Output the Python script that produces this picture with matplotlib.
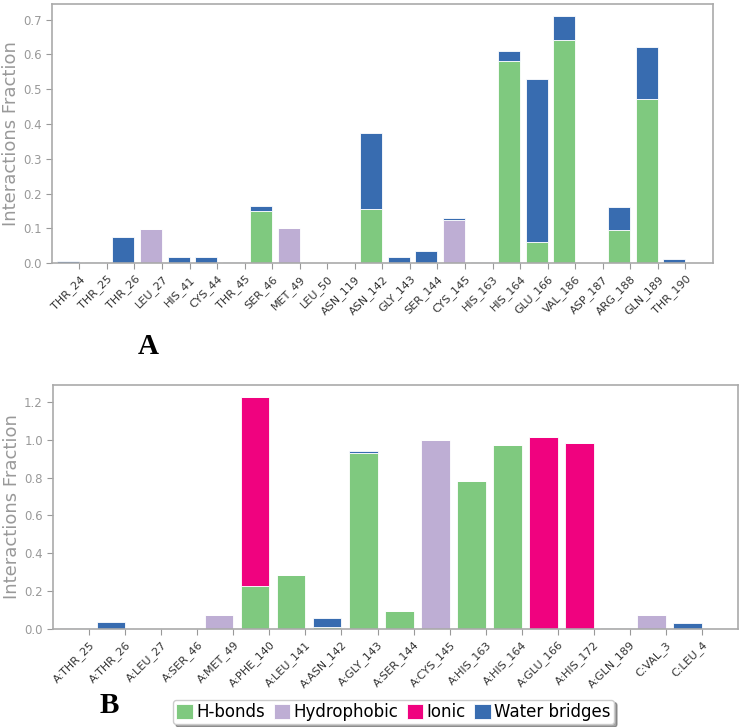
import matplotlib
matplotlib.use('Agg')
import matplotlib.pyplot as plt
import numpy as np

# panel A
res_a = ['THR_24', 'THR_25', 'THR_26', 'LEU_27', 'HIS_41', 'CYS_44', 'THR_45',
         'SER_46', 'MET_49', 'LEU_50', 'ASN_119', 'ASN_142', 'GLY_143', 'SER_144',
         'CYS_145', 'HIS_163', 'HIS_164', 'GLU_166', 'VAL_186', 'ASP_187',
         'ARG_188', 'GLN_189', 'THR_190']
hb_a    = [0, 0, 0, 0, 0, 0, 0, 0.150, 0, 0, 0, 0.155, 0, 0, 0, 0, 0.582, 0.060, 0.641, 0, 0.096, 0.472, 0]
hyd_a   = [0, 0, 0, 0.098, 0, 0, 0, 0, 0.100, 0, 0, 0, 0, 0, 0.125, 0, 0, 0, 0, 0, 0, 0, 0]
ion_a   = [0] * 23
wat_a   = [0.006, 0.003, 0.075, 0, 0.018, 0.018, 0.003, 0.015, 0, 0, 0, 0.219, 0.019, 0.036, 0.006, 0.003, 0.028, 0.469, 0.070, 0, 0.065, 0.148, 0.012]

# panel B
res_b = ['A:THR_25', 'A:THR_26', 'A:LEU_27', 'A:SER_46', 'A:MET_49', 'A:PHE_140',
         'A:LEU_141', 'A:ASN_142', 'A:GLY_143', 'A:SER_144', 'A:CYS_145', 'A:HIS_163',
         'A:HIS_164', 'A:GLU_166', 'A:HIS_172', 'A:GLN_189', 'C:VAL_3', 'C:LEU_4']
hb_b    = [0, 0, 0, 0, 0, 0.228, 0.283, 0.008, 0.929, 0.097, 0, 0.783, 0.973, 0, 0, 0, 0, 0]
hyd_b   = [0, 0, 0.003, 0, 0.071, 0, 0, 0, 0, 0, 0.998, 0, 0, 0, 0, 0, 0.073, 0]
ion_b   = [0, 0, 0, 0, 0, 1.001, 0, 0, 0, 0, 0, 0, 0, 1.014, 0.982, 0, 0, 0]
wat_b   = [0.003, 0.034, 0, 0, 0, 0, 0, 0.047, 0.011, 0, 0, 0, 0, 0, 0, 0.007, 0, 0.029]

kinds = ['H-bonds', 'Hydrophobic', 'Ionic', 'Water bridges']
colors = ['#7fc97f', '#beaed4', '#f0027f', '#386cb0']
gray = '#999999'


def stacked(ax, names, series, ymax, yticks):
    x = np.arange(len(names))
    bottom = np.zeros(len(names))
    for vals, c, lab in zip(series, colors, kinds):
        vals = np.array(vals)
        ax.bar(x, vals, width=-0.8, align='edge', bottom=bottom, color=c,
               edgecolor='white', linewidth=0.6, label=lab)
        bottom += vals
    ax.set_xlim(-1, len(names))
    ax.set_ylim(0, ymax)
    ax.set_xticks(x)
    ax.set_xticklabels(names, rotation=45, ha='right', rotation_mode='anchor',
                       fontsize=8, color='#333333')
    ax.set_yticks(yticks)
    ax.set_yticklabels(['%.1f' % t for t in yticks], fontsize=8.5, color=gray)
    ax.tick_params(color=gray, length=4)
    for s in ax.spines.values():
        s.set_color('#aaaaaa')
        s.set_linewidth(1.2)
    ax.set_ylabel('Interactions Fraction', fontsize=13, color=gray, labelpad=2)


fig = plt.figure(figsize=(7.4, 7.27), dpi=100)
ax1 = fig.add_axes([0.070, 0.638, 0.8935, 0.3565])
stacked(ax1, res_a, [hb_a, hyd_a, ion_a, wat_a], 0.745, np.arange(0, 0.71, 0.1))

ax2 = fig.add_axes([0.072, 0.135, 0.925, 0.3353])
stacked(ax2, res_b, [hb_b, hyd_b, ion_b, wat_b], 1.29, np.arange(0, 1.21, 0.2))

fig.text(0.2, 0.523, 'A', fontsize=21, fontweight='bold', family='Liberation Serif',
         ha='center', va='center')
fig.text(0.147, 0.029, 'B', fontsize=21, fontweight='bold', family='Liberation Serif',
         ha='center', va='center')

h, l = ax2.get_legend_handles_labels()
fig.legend(h, l, loc='center', bbox_to_anchor=(0.532, 0.0206), ncol=4, fontsize=12,
           handlelength=1.0, handleheight=1.0, handletextpad=0.2, columnspacing=0.5,
           borderpad=0.2, shadow=True, fancybox=True, edgecolor='#cccccc', framealpha=1)

fig.savefig('out.png', dpi=100)
